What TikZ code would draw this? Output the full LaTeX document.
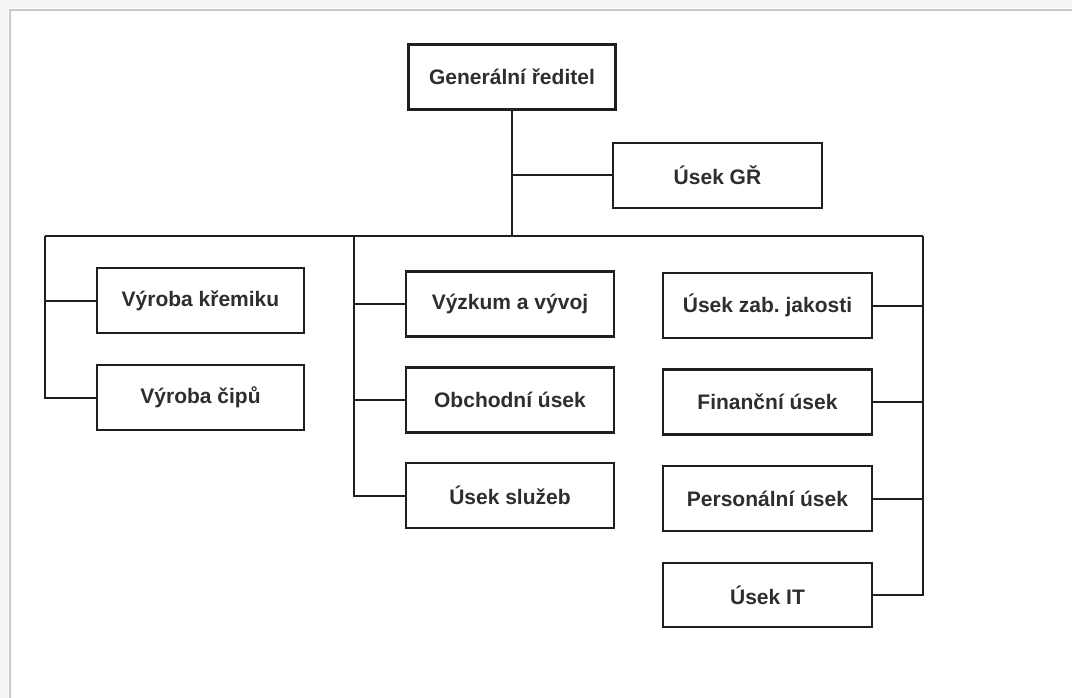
\documentclass[tikz,border=0pt]{standalone}
\usepackage{fontspec}
\setmainfont{Liberation Sans}
\frenchspacing
\begin{document}
\begin{tikzpicture}[x=1pt,y=-1pt,
  unit/.style={draw=black!88, line width=2.2pt, fill=white, minimum width=207pt, minimum height=65pt,
    inner sep=0pt, font=\fontsize{21}{24}\selectfont\bfseries, text=black!82},
  link/.style={draw=black!88, line width=2pt},
  frame/.style={draw=black!22, line width=1.6pt}]
\useasboundingbox (0,0) rectangle (1072,698);
\fill[black!4] (0,0) rectangle (1072,8);
\fill[black!4] (0,0) rectangle (8,698);
\draw[frame] (10,698) -- (10,10) -- (1072,10);
% nodes
\node[unit] (gr) at (512,77) {Generální ředitel};
\node[unit, minimum width=209pt] (ugr) at (717.5,175.5) {Úsek GŘ};
\node[unit] (kremik) at (200.5,300.5) {Výroba křemiku};
\node[unit] (cipy) at (200.5,397.5) {Výroba čipů};
\node[unit, minimum width=208pt] (vyzkum) at (510,304) {Výzkum a vývoj};
\node[unit, minimum width=208pt] (obchod) at (510,400) {Obchodní úsek};
\node[unit, minimum width=208pt] (sluzby) at (510,495.5) {Úsek služeb};
\node[unit, minimum width=209pt] (jakost) at (767.5,305.5) {Úsek zab. jakosti};
\node[unit, minimum width=209pt] (finance) at (767.5,402) {Finanční úsek};
\node[unit, minimum width=209pt] (personal) at (767.5,498.5) {Personální úsek};
\node[unit, minimum width=209pt, minimum height=64pt] (it) at (767.5,595) {Úsek IT};
% bus coordinates
\coordinate (bus) at (512,236);
\coordinate (busL) at (45,236);
\coordinate (busM) at (354,236);
\coordinate (busR) at (923,236);
% connectors
\draw[link] (gr.south) -- (bus);
\draw[link] (gr.south |- ugr.west) -- (ugr.west);
\draw[link] (busL) -- (busR);
\draw[link] (busL) |- (cipy.west);
\draw[link] (busL |- kremik.west) -- (kremik.west);
\draw[link] (busM) |- (sluzby.west);
\draw[link] (busM |- vyzkum.west) -- (vyzkum.west);
\draw[link] (busM |- obchod.west) -- (obchod.west);
\draw[link] (busR) |- (it.east);
\draw[link] (busR |- jakost.east) -- (jakost.east);
\draw[link] (busR |- finance.east) -- (finance.east);
\draw[link] (busR |- personal.east) -- (personal.east);
\end{tikzpicture}
\end{document}
